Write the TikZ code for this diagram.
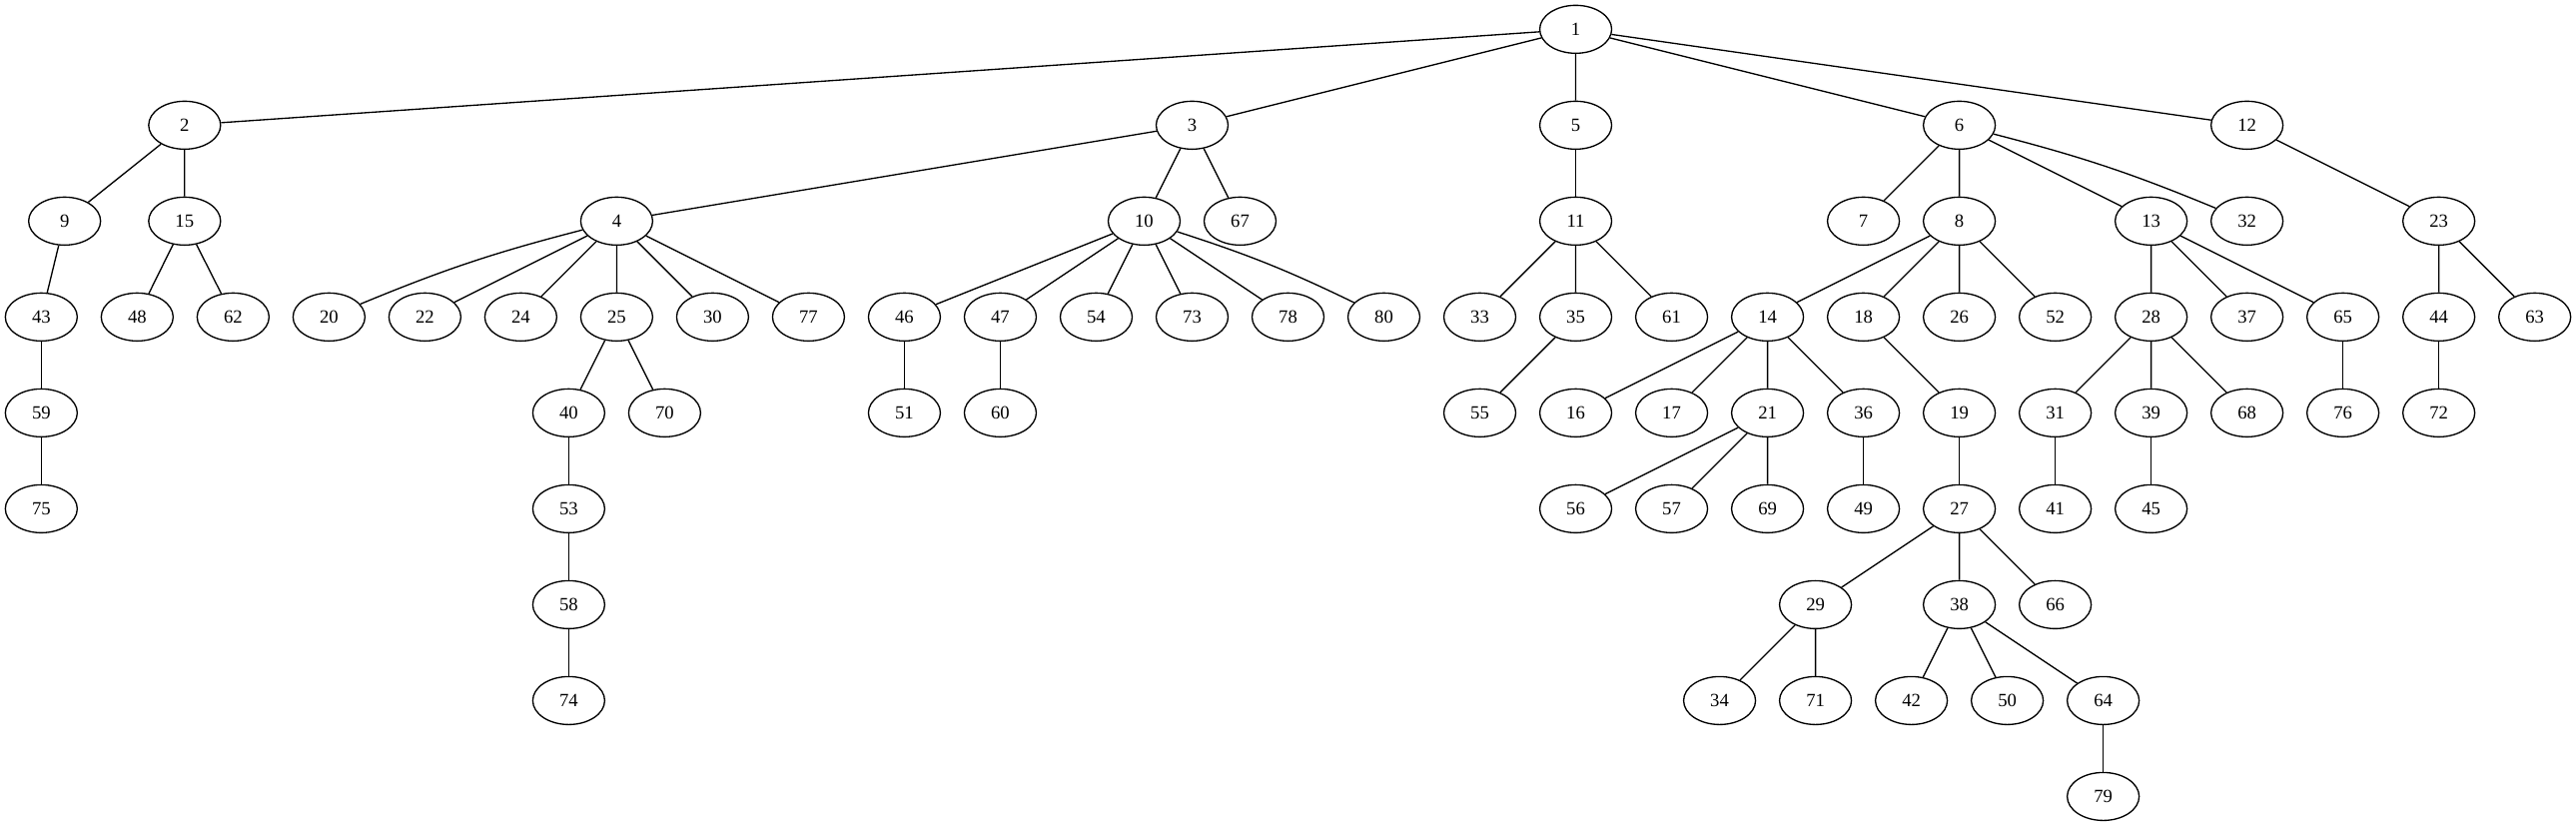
\documentclass[tikz,border=0pt]{standalone}
\usepackage{fontspec}
\setmainfont{Liberation Serif}
\usetikzlibrary{shapes.geometric}

\begin{document}
\begin{tikzpicture}[x=1pt,y=1pt,line width=1pt,
    vert/.style={ellipse,draw=black,minimum width=54pt,minimum height=36pt,inner sep=0pt,
      font=\fontsize{14}{16}\selectfont}]
\useasboundingbox (0,0) rectangle (1934,-620);

% rank 0 and 1
\node[vert] (n1) at (1183,-22) {1};
\node[vert] (n2) at (138.6,-94) {2};
\node[vert] (n3) at (895,-94) {3};
\node[vert] (n5) at (1183,-94) {5};
\node[vert] (n6) at (1471,-94) {6};
\node[vert] (n12) at (1687,-94) {12};

% rank 2
\node[vert] (n9) at (48.5,-166) {9};
\node[vert] (n15) at (138.6,-166) {15};
\node[vert] (n4) at (463,-166) {4};
\node[vert] (n10) at (859,-166) {10};
\node[vert] (n67) at (931,-166) {67};
\node[vert] (n11) at (1183,-166) {11};
\node[vert] (n7) at (1399,-166) {7};
\node[vert] (n8) at (1471,-166) {8};
\node[vert] (n13) at (1615,-166) {13};
\node[vert] (n32) at (1687,-166) {32};
\node[vert] (n23) at (1831,-166) {23};

% rank 3
\node[vert] (n43) at (31,-238) {43};
\node[vert] (n48) at (103,-238) {48};
\node[vert] (n62) at (175,-238) {62};
\node[vert] (n20) at (247,-238) {20};
\node[vert] (n22) at (319,-238) {22};
\node[vert] (n24) at (391,-238) {24};
\node[vert] (n25) at (463,-238) {25};
\node[vert] (n30) at (535,-238) {30};
\node[vert] (n77) at (607,-238) {77};
\node[vert] (n46) at (679,-238) {46};
\node[vert] (n47) at (751,-238) {47};
\node[vert] (n54) at (823,-238) {54};
\node[vert] (n73) at (895,-238) {73};
\node[vert] (n78) at (967,-238) {78};
\node[vert] (n80) at (1039,-238) {80};
\node[vert] (n33) at (1111,-238) {33};
\node[vert] (n35) at (1183,-238) {35};
\node[vert] (n61) at (1255,-238) {61};
\node[vert] (n14) at (1327,-238) {14};
\node[vert] (n18) at (1399,-238) {18};
\node[vert] (n26) at (1471,-238) {26};
\node[vert] (n52) at (1543,-238) {52};
\node[vert] (n28) at (1615,-238) {28};
\node[vert] (n37) at (1687,-238) {37};
\node[vert] (n65) at (1759,-238) {65};
\node[vert] (n44) at (1831,-238) {44};
\node[vert] (n63) at (1903,-238) {63};

% rank 4
\node[vert] (n59) at (31,-310) {59};
\node[vert] (n40) at (427,-310) {40};
\node[vert] (n70) at (499,-310) {70};
\node[vert] (n51) at (679,-310) {51};
\node[vert] (n60) at (751,-310) {60};
\node[vert] (n55) at (1111,-310) {55};
\node[vert] (n16) at (1183,-310) {16};
\node[vert] (n17) at (1255,-310) {17};
\node[vert] (n21) at (1327,-310) {21};
\node[vert] (n36) at (1399,-310) {36};
\node[vert] (n19) at (1471,-310) {19};
\node[vert] (n31) at (1543,-310) {31};
\node[vert] (n39) at (1615,-310) {39};
\node[vert] (n68) at (1687,-310) {68};
\node[vert] (n76) at (1759,-310) {76};
\node[vert] (n72) at (1831,-310) {72};

% rank 5
\node[vert] (n75) at (31,-382) {75};
\node[vert] (n53) at (427,-382) {53};
\node[vert] (n56) at (1183,-382) {56};
\node[vert] (n57) at (1255,-382) {57};
\node[vert] (n69) at (1327,-382) {69};
\node[vert] (n49) at (1399,-382) {49};
\node[vert] (n27) at (1471,-382) {27};
\node[vert] (n41) at (1543,-382) {41};
\node[vert] (n45) at (1615,-382) {45};

% rank 6 to 8
\node[vert] (n58) at (427,-454) {58};
\node[vert] (n29) at (1363,-454) {29};
\node[vert] (n38) at (1471,-454) {38};
\node[vert] (n66) at (1543,-454) {66};
\node[vert] (n74) at (427,-526) {74};
\node[vert] (n34) at (1291,-526) {34};
\node[vert] (n71) at (1363,-526) {71};
\node[vert] (n42) at (1435,-526) {42};
\node[vert] (n50) at (1507,-526) {50};
\node[vert] (n64) at (1579,-526) {64};
\node[vert] (n79) at (1579,-598) {79};

% edges
\draw (n1) -- (n2) (n1) -- (n3) (n1) -- (n5) (n1) -- (n6) (n1) -- (n12);
\draw (n2) -- (n9) (n2) -- (n15);
\draw (n3) -- (n4) (n3) -- (n10) (n3) -- (n67);
\draw (n5) -- (n11);
\draw (n6) -- (n7) (n6) -- (n8) (n6) -- (n13) (n6) to[bend left=4] (n32);
\draw (n12) -- (n23);
\draw (n9) -- (n43);
\draw (n15) -- (n48) (n15) -- (n62);
\draw (n4) to[bend right=4] (n20) (n4) -- (n22) (n4) -- (n24) (n4) -- (n25) (n4) -- (n30) (n4) -- (n77);
\draw (n10) -- (n46) (n10) -- (n47) (n10) -- (n54) (n10) -- (n73) (n10) -- (n78) (n10) to[bend left=4] (n80);
\draw (n11) -- (n33) (n11) -- (n35) (n11) -- (n61);
\draw (n8) -- (n14) (n8) -- (n18) (n8) -- (n26) (n8) -- (n52);
\draw (n13) -- (n28) (n13) -- (n37) (n13) -- (n65);
\draw (n23) -- (n44) (n23) -- (n63);
\draw (n43) -- (n59);
\draw (n25) -- (n40) (n25) -- (n70);
\draw (n46) -- (n51);
\draw (n47) -- (n60);
\draw (n35) -- (n55);
\draw (n14) -- (n16) (n14) -- (n17) (n14) -- (n21) (n14) -- (n36);
\draw (n18) -- (n19);
\draw (n28) -- (n31) (n28) -- (n39) (n28) -- (n68);
\draw (n65) -- (n76);
\draw (n44) -- (n72);
\draw (n59) -- (n75);
\draw (n40) -- (n53);
\draw (n21) -- (n56) (n21) -- (n57) (n21) -- (n69);
\draw (n36) -- (n49);
\draw (n19) -- (n27);
\draw (n31) -- (n41);
\draw (n39) -- (n45);
\draw (n53) -- (n58);
\draw (n27) -- (n29) (n27) -- (n38) (n27) -- (n66);
\draw (n58) -- (n74);
\draw (n29) -- (n34) (n29) -- (n71);
\draw (n38) -- (n42) (n38) -- (n50) (n38) -- (n64);
\draw (n64) -- (n79);

\end{tikzpicture}
\end{document}
